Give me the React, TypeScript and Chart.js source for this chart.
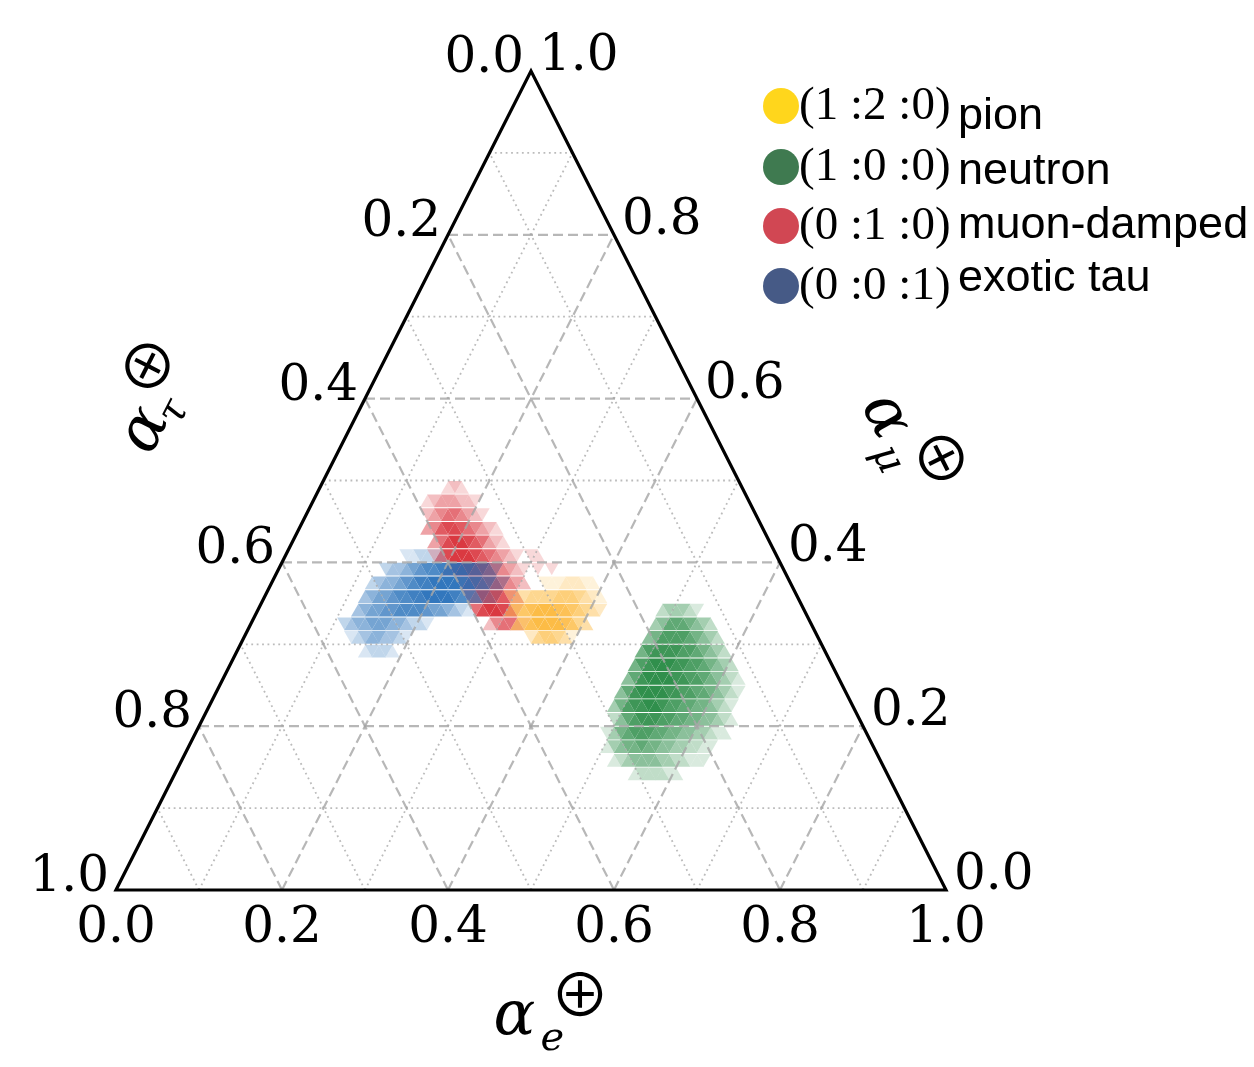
import React, { useEffect, useRef } from "react";
import { Chart, registerables } from "chart.js";

Chart.register(...registerables);

// Triangular histogram resolution (bins per side)
const N = 60;

// Each row: [row index along alpha_mu, first triangle index in the row, density levels (0-9) per triangle]
const pionRows: [number, number, string][] = [
  [22, 39, "11122211"],
  [21, 35, "23344445554321"],
  [20, 36, "35678887765432"],
  [19, 38, "45788887643"],
  [18, 41, "2455431"],
];

const neutronRows: [number, number, string][] = [
  [20, 58, "233321"],
  [19, 58, "346665432"],
  [18, 58, "45777765432"],
  [17, 58, "5788887765432"],
  [16, 58, "578999887765432"],
  [15, 58, "46899998877654321"],
  [14, 58, "468999988776654321"],
  [13, 58, "357889987766554321"],
  [12, 59, "246788877665544321"],
  [11, 59, "135677766554433211"],
  [10, 60, "1345565544332211"],
  [9, 62, "12344443322111"],
  [8, 66, "1222211"],
];

const muonRows: [number, number, string][] = [
  [29, 18, "121"],
  [28, 16, "12333221"],
  [27, 17, "234554321"],
  [26, 18, "34677654321"],
  [25, 20, "35788765321"],
  [24, 21, "2578887654321011"],
  [23, 24, "3567776543210101"],
  [22, 27, "3566665432"],
  [21, 29, "45777643"],
  [20, 31, "5788752"],
  [19, 34, "245531"],
];

const tauRows: [number, number, string][] = [
  [24, 17, "112211"],
  [23, 15, "23345677888876542"],
  [22, 14, "23445678899998876532"],
  [21, 14, "34556778899998765321"],
  [20, 14, "34556677776554321"],
  [19, 13, "2344555443221"],
  [18, 15, "123443321"],
  [17, 18, "12221"],
];

const tickValues = [0, 0.2, 0.4, 0.6, 0.8, 1.0];
const tickLabels = ["0.0", "0.2", "0.4", "0.6", "0.8", "1.0"];
const gridFractions = [0.1, 0.2, 0.3, 0.4, 0.5, 0.6, 0.7, 0.8, 0.9];

const legendRatios = ["(1 :2 :0)", "(1 :0 :0)", "(0 :1 :0)", "(0 :0 :1)"];
const legendNames = ["pion", "neutron", "muon-damped", "exotic tau"];
const legendColors = ["#ffd61c", "#3f7a50", "#d14753", "#465a86"];

const levelAlpha = [0, 0.17, 0.28, 0.4, 0.51, 0.61, 0.7, 0.78, 0.85, 0.91];

function buildCells(rows: [number, number, string][], rgb: string) {
  const data: { x: number; y: number }[] = [];
  const colors: string[] = [];
  const rot: number[] = [];
  rows.forEach(([i, t0, levels]) => {
    for (let k = 0; k < levels.length; k++) {
      const lv = Number(levels[k]);
      if (!lv) continue;
      const t = t0 + k;
      const a = Math.floor(t / 2);
      const up = t % 2 === 0;
      const e = (a + (up ? 1 / 3 : 2 / 3)) / N;
      const mu = (i + (up ? 1 / 3 : 2 / 3)) / N;
      data.push({ x: e + mu / 2, y: mu });
      colors.push(`rgba(${rgb},${levelAlpha[lv]})`);
      rot.push(up ? 0 : 180);
    }
  });
  return { data, colors, rot };
}

function inkText(ctx: CanvasRenderingContext2D, text: string, font: string, cx: number, cy: number) {
  ctx.font = font;
  ctx.textAlign = "left";
  ctx.textBaseline = "alphabetic";
  const m = ctx.measureText(text);
  const x0 = cx - (m.actualBoundingBoxRight - m.actualBoundingBoxLeft) / 2;
  const y0 = cy - (m.actualBoundingBoxDescent - m.actualBoundingBoxAscent) / 2;
  ctx.fillText(text, x0, y0);
}

const ternaryPlugin = {
  id: "ternary",
  afterDatasetsDraw(chart: any) {
    const ctx: CanvasRenderingContext2D = chart.ctx;
    const xs = chart.scales.x;
    const ys = chart.scales.y;
    const P = (e: number, mu: number): [number, number] => [xs.getPixelForValue(e + mu / 2), ys.getPixelForValue(mu)];
    const seg = (p: [number, number], q: [number, number]) => {
      ctx.beginPath();
      ctx.moveTo(p[0], p[1]);
      ctx.lineTo(q[0], q[1]);
      ctx.stroke();
    };
    ctx.save();
    gridFractions.forEach((f) => {
      const major = Math.round(f * 10) % 2 === 0;
      if (major) {
        ctx.strokeStyle = "rgba(165,165,165,0.8)";
        ctx.lineWidth = 2.2;
        ctx.setLineDash([10, 5]);
      } else {
        ctx.strokeStyle = "rgba(170,170,170,0.8)";
        ctx.lineWidth = 1.8;
        ctx.setLineDash([1.8, 3.6]);
      }
      seg(P(0, f), P(1 - f, f));
      seg(P(f, 0), P(f, 1 - f));
      seg(P(1 - f, 0), P(0, 1 - f));
    });
    ctx.setLineDash([]);
    ctx.strokeStyle = "#000";
    ctx.lineWidth = 3.2;
    ctx.lineJoin = "miter";
    const A = P(0, 0), B = P(1, 0), C = P(0, 1);
    ctx.beginPath();
    ctx.moveTo(A[0], A[1]);
    ctx.lineTo(B[0], B[1]);
    ctx.lineTo(C[0], C[1]);
    ctx.closePath();
    ctx.stroke();
    ctx.restore();
  },
  afterDraw(chart: any) {
    const ctx: CanvasRenderingContext2D = chart.ctx;
    const xs = chart.scales.x;
    const ys = chart.scales.y;
    const P = (e: number, mu: number): [number, number] => [xs.getPixelForValue(e + mu / 2), ys.getPixelForValue(mu)];
    ctx.save();
    ctx.fillStyle = "#000";
    ctx.font = '50px "DejaVu Serif"';
    // bottom: alpha_e
    ctx.textAlign = "center";
    ctx.textBaseline = "alphabetic";
    tickValues.forEach((v, k) => {
      const p = P(v, 0);
      ctx.fillText(tickLabels[k], p[0], p[1] + 52);
    });
    // left: alpha_tau (tau = v at left edge, mu = 1 - v)
    ctx.textAlign = "right";
    tickValues.forEach((v, k) => {
      const p = P(0, 1 - v);
      ctx.fillText(tickLabels[k], p[0] - 7, p[1] + 1);
    });
    // right: alpha_mu
    ctx.textAlign = "left";
    tickValues.forEach((v, k) => {
      const p = P(1 - v, v);
      ctx.fillText(tickLabels[k], p[0] + 8, p[1] - 1);
    });

    // axis titles
    const title = (cx: number, cy: number, ang: number, sub: string, sx: number, sy: number, px: number, py: number) => {
      ctx.save();
      ctx.translate(cx, cy);
      ctx.rotate((ang * Math.PI) / 180);
      inkText(ctx, "\u03b1", 'italic 62px "DejaVu Serif"', 0, 0);
      inkText(ctx, sub, 'italic 40px "DejaVu Serif"', sx, sy);
      inkText(ctx, "\u2295", '400 60px "Noto Sans CJK JP", "DejaVu Sans"', px, py);
      ctx.restore();
    };
    title(515, 1018, 0, "e", 37, 22, 65, -24);
    title(146, 430, -63.1, "\u03c4", 30, 19, 58, -28);
    title(885, 417, 63.1, "\u03bc", 38, 22, 62, -32);

    // legend
    const rowsY = [106, 167, 226, 286];
    const nameBase = [129, 184, 238, 291];
    legendNames.forEach((name, k) => {
      ctx.fillStyle = legendColors[k];
      ctx.beginPath();
      ctx.arc(781, rowsY[k], 18, 0, Math.PI * 2);
      ctx.fill();
      ctx.fillStyle = "#000";
      inkText(ctx, legendRatios[k], '47px "Liberation Serif"', 875, rowsY[k] + 1);
      ctx.font = '45px "Liberation Sans"';
      ctx.textAlign = "left";
      ctx.textBaseline = "alphabetic";
      ctx.fillText(name, 958, nameBase[k]);
    });
    ctx.restore();
  },
};

export default function App() {
  const ref = useRef<HTMLCanvasElement>(null);
  useEffect(() => {
    if (!ref.current) return;
    const sets = [
      { label: "pion", rows: pionRows, rgb: "252,176,38" },
      { label: "exotic tau", rows: tauRows, rgb: "30,106,182" },
      { label: "muon-damped", rows: muonRows, rgb: "212,22,32" },
      { label: "neutron", rows: neutronRows, rgb: "28,132,58" },
    ].map((s) => {
      const c = buildCells(s.rows, s.rgb);
      return {
        label: s.label,
        data: c.data,
        pointStyle: "triangle" as const,
        pointRadius: 8.2,
        pointHoverRadius: 8.2,
        pointBorderWidth: 0,
        pointRotation: c.rot,
        backgroundColor: c.colors,
        pointBackgroundColor: c.colors,
        borderColor: "rgba(0,0,0,0)",
        showLine: false,
      };
    });
    const chart = new Chart(ref.current, {
      type: "scatter",
      data: { datasets: sets as any },
      options: {
        responsive: false,
        animation: false,
        events: [],
        layout: { padding: { left: 116, right: 308, top: 71, bottom: 177 } },
        plugins: { legend: { display: false }, tooltip: { enabled: false } },
        scales: {
          x: { type: "linear", min: 0, max: 1, display: false },
          y: { type: "linear", min: 0, max: 1, display: false },
        },
      },
      plugins: [ternaryPlugin],
    });
    return () => chart.destroy();
  }, []);
  return (
    <div style={{ position: "absolute", left: 0, top: 0, width: 1254, height: 1067, background: "#fff" }}>
      <canvas ref={ref} width={1254} height={1067} style={{ display: "block" }} />
    </div>
  );
}
